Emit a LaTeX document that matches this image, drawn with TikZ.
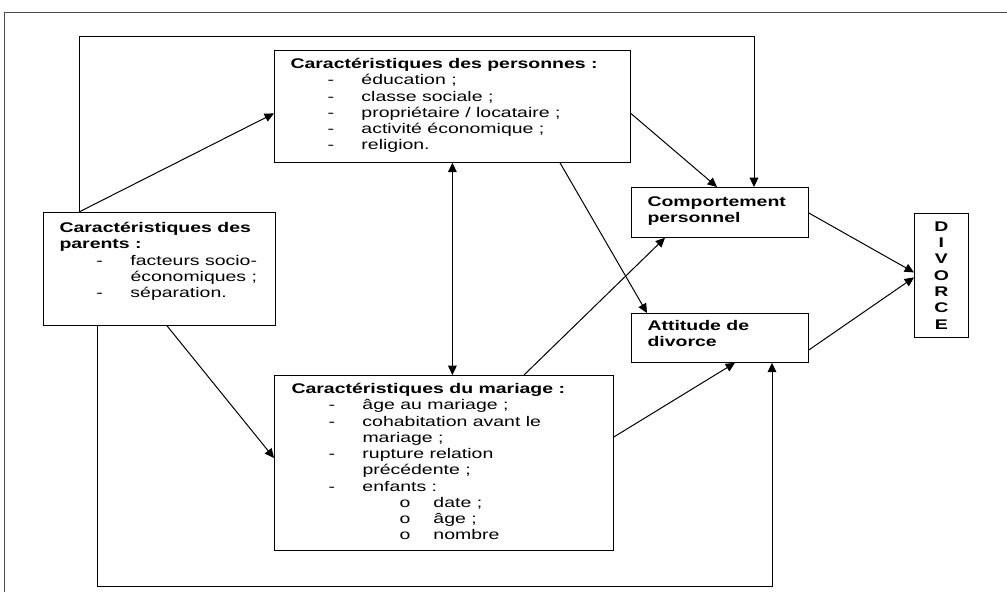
\documentclass[tikz,border=0pt]{standalone}
\usepackage{fontspec}
\setmainfont{Liberation Sans}[FakeStretch=1.39]
\usetikzlibrary{arrows.meta}

\newdimen\px \px=0.75pt
\newcommand{\tiret}[1]{\hspace*{37\px}\makebox[34\px][l]{-}#1}
\newcommand{\suite}[1]{\hspace*{71\px}#1}
\newcommand{\rond}[1]{\hspace*{108\px}\makebox[34\px][l]{o}#1}
\newcommand{\haut}{\rule{0pt}{14\px}}

\begin{document}
\begin{tikzpicture}[x=1\px, y=-1\px,
  >={Triangle[length=7pt,width=6.5pt]},
  every path/.style={line width=0.75pt},
  boite/.style={draw, line width=0.6pt, anchor=north west, inner sep=0pt},
  texte/.style={anchor=north west, inner sep=0pt, align=left, font={\fontsize{10.5}{12.2}\selectfont}}]
\useasboundingbox (0,0) rectangle (1007,592);
% page frame
\draw[line width=0.6pt, black!70] (1007,12) -- (4,12) -- (4,592);

% Boxes
\node[boite, minimum width=356\px, minimum height=112\px] (pers) at (274,50) {};
\node[boite, minimum width=232\px, minimum height=113\px] (par) at (43,212) {};
\node[boite, minimum width=339\px, minimum height=175\px] (mar) at (274,375) {};
\node[boite, minimum width=177\px, minimum height=50\px] (comp) at (631,187) {};
\node[boite, minimum width=177\px, minimum height=49\px] (att) at (631,313) {};
\node[boite, minimum width=54\px, minimum height=124\px, align=center,
      font={\bfseries\fontsize{10.5}{12.2}\selectfont}] (div) at (914,213) {D\\I\\V\\O\\R\\C\\E};

% Texts
\node[texte] (perstxt) at ([shift={(16\px,-4\px)}]pers.north west)
  {\haut\textbf{Caractéristiques des personnes :}\\
   \tiret{éducation ;}\\
   \tiret{classe sociale ;}\\
   \tiret{propriétaire / locataire ;}\\
   \tiret{activité économique ;}\\
   \tiret{religion.}};
\node[texte] (partxt) at ([shift={(16\px,-6\px)}]par.north west)
  {\haut\textbf{Caractéristiques des}\\
   \textbf{parents :}\\
   \tiret{facteurs socio-}\\
   \suite{économiques ;}\\
   \tiret{séparation.}};
\node[texte] (martxt) at ([shift={(17\px,-4\px)}]mar.north west)
  {\haut\textbf{Caractéristiques du mariage :}\\
   \tiret{âge au mariage ;}\\
   \tiret{cohabitation avant le}\\
   \suite{mariage ;}\\
   \tiret{rupture relation}\\
   \suite{précédente ;}\\
   \tiret{enfants :}\\
   \rond{date ;}\\
   \rond{âge ;}\\
   \rond{nombre}};
\node[texte] (comptxt) at ([shift={(16\px,-5\px)}]comp.north west)
  {\haut\textbf{Comportement}\\ \textbf{personnel}};
\node[texte] (atttxt) at ([shift={(16\px,-3\px)}]att.north west)
  {\haut\textbf{Attitude de}\\ \textbf{divorce}};

% Arrows
\draw[->] ([xshift=36\px]par.north west) -- ([yshift=-7\px]pers.west);
\draw[->] ([xshift=36\px]par.north west) -- ++(0,-175) -| ([xshift=123\px]comp.north west);
\draw[->] ([yshift=-7\px]pers.east) -- ([xshift=86\px]comp.north west);
\draw[<->] (pers.south) -- (pers.south |- mar.north);
\draw[->] ([xshift=286\px]pers.south west) -- ([xshift=16\px]att.north west);
\draw[->] ([xshift=250\px]mar.north west) -- ([xshift=34\px]comp.south west);
\draw[->] ([yshift=-62\px]mar.north east) -- ([xshift=104\px]att.south west);
\draw[->] ([xshift=124\px]par.south west) -- ([yshift=-83\px]mar.north west);
\draw[->] ([xshift=54\px]par.south west) -- ++(0,261) -| ([xshift=141\px]att.south west);
\draw[->] ([yshift=-26\px]comp.north east) -- ([yshift=3\px]div.west);
\draw[->] ([yshift=-37\px]att.north east) -- ([yshift=-2\px]div.west);
\end{tikzpicture}
\end{document}
